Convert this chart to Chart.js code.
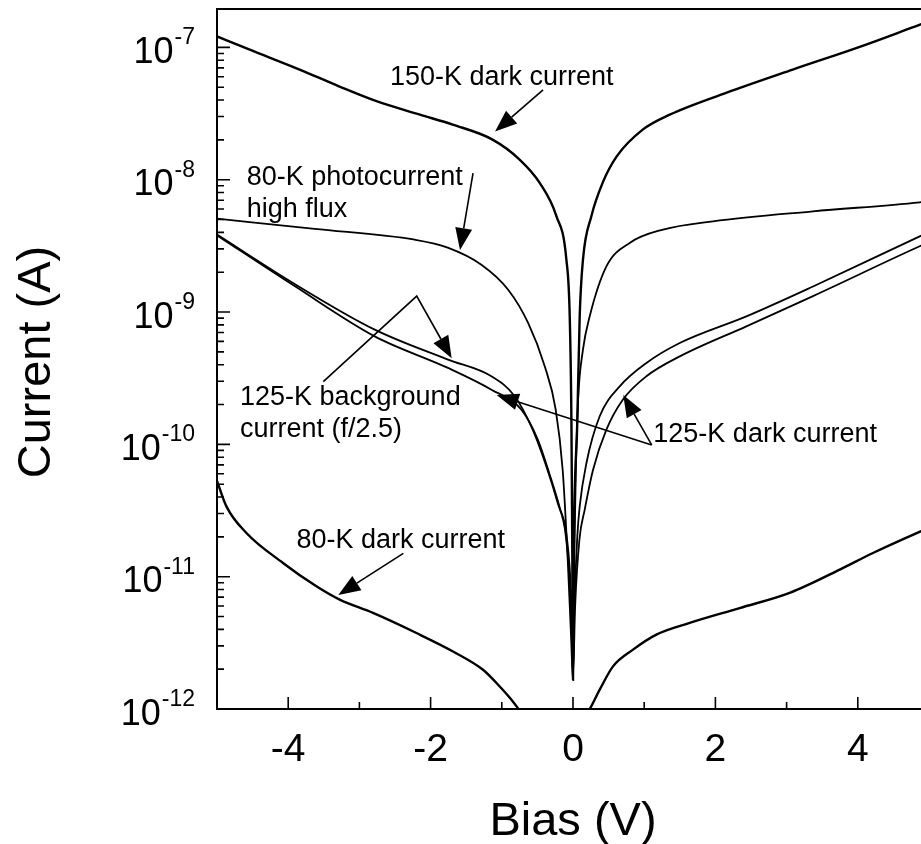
<!DOCTYPE html>
<html>
<head>
<meta charset="utf-8">
<style>
html,body{margin:0;padding:0;background:#fff;overflow:hidden;}
#wrap{width:921px;height:844px;overflow:hidden;position:relative;}
#c{display:block;}
</style>
<script src="https://cdn.jsdelivr.net/npm/chart.js@4.4.1/dist/chart.umd.min.js"></script>
</head>
<body>
<div id="wrap"><canvas id="c" width="940" height="844" style="width:940px;height:844px"></canvas></div>
<script>
// ---- data (bias in V, current in A) ----
const dark150K_V = [-5.0, -4.54, -3.84, -3.28, -2.76, -2.15, -1.69, -1.13, -0.75, -0.47, -0.233, -0.093, -0.046, -0.022, -0.01, 0, 0.012, 0.06, 0.094, 0.14, 0.258, 0.417, 0.614, 0.979, 1.358, 2.159, 3.086, 4.027, 4.883, 5.0];
const dark150K_A = [1.21e-7, 9.6e-8, 6.8e-8, 5.06e-8, 3.92e-8, 3.1e-8, 2.61e-8, 2.01e-8, 1.42e-8, 9.5e-9, 5.3e-9, 2.49e-9, 9.3e-10, 1.46e-10, 1.6e-11, 1.66e-12, 1.6e-11, 1.46e-10, 9.3e-10, 2.49e-9, 5.3e-9, 9.5e-9, 1.5e-8, 2.39e-8, 3.1e-8, 4.55e-8, 6.8e-8, 1.01e-7, 1.49e-7, 1.57e-7];

const photo80K_V = [-5.0, -3.628, -2.223, -1.76, -1.287, -0.913, -0.632, -0.397, -0.243, -0.145, -0.074, -0.025, 0, 0.017, 0.04, 0.072, 0.14, 0.235, 0.469, 0.796, 1.264, 1.966, 3.371, 4.869, 5.0];
const photo80K_A = [5.08e-9, 4.25e-9, 3.52e-9, 3.07e-9, 2.28e-9, 1.48e-9, 8.3e-10, 3.89e-10, 1.83e-10, 6.4e-11, 1.34e-11, 3.3e-12, 1.66e-12, 1.34e-11, 6.4e-11, 2.18e-10, 5.2e-10, 9.3e-10, 2.21e-9, 3.33e-9, 4.2e-9, 4.85e-9, 5.77e-9, 6.75e-9, 6.9e-9];

const bg125K_V = [-5.0, -3.91, -2.785, -1.756, -1.146, -0.819, -0.566, -0.374, -0.215, -0.103, -0.032, 0, 0.02, 0.06, 0.094, 0.188, 0.375, 0.656, 1.031, 1.499, 2.435, 3.371, 4.869, 5.0];
const bg125K_A = [3.85e-9, 1.63e-9, 7.36e-10, 4.37e-10, 3.27e-10, 2.31e-10, 1.29e-10, 6.8e-11, 3.6e-11, 2.07e-11, 6.7e-12, 1.8e-12, 6.0e-12, 2.0e-11, 3.4e-11, 7.2e-11, 1.63e-10, 2.74e-10, 4.12e-10, 5.83e-10, 9.27e-10, 1.56e-9, 3.73e-9, 4.02e-9];

const dark125K_V = [-5.0, -3.91, -2.785, -1.756, -1.146, -0.725, -0.496, -0.327, -0.187, -0.088, -0.025, 0, 0.03, 0.09, 0.164, 0.281, 0.469, 0.702, 1.031, 1.499, 2.435, 3.371, 4.869, 5.0];
const dark125K_A = [3.8e-9, 1.57e-9, 6.55e-10, 3.78e-10, 2.59e-10, 1.83e-10, 1.09e-10, 5.9e-11, 3.33e-11, 2.0e-11, 6.7e-12, 1.8e-12, 6.0e-12, 1.9e-11, 3.2e-11, 6.4e-11, 1.29e-10, 2.18e-10, 3.27e-10, 4.62e-10, 7.8e-10, 1.32e-9, 3.14e-9, 3.37e-9];

const dark80K_left_V = [-5.0, -4.868, -4.587, -4.073, -3.604, -3.277, -2.809, -2.199, -1.685, -1.264, -1.029, -0.861, -0.735];
const dark80K_left_A = [5.3e-11, 3.4e-11, 2.14e-11, 1.27e-11, 8.45e-12, 6.7e-12, 5.32e-12, 3.75e-12, 2.72e-12, 1.98e-12, 1.48e-12, 1.17e-12, 0.95e-12];
const dark80K_right_V = [0.206, 0.235, 0.375, 0.562, 0.843, 1.171, 1.639, 2.341, 3.043, 3.746, 4.213, 4.883, 5.0];
const dark80K_right_A = [0.95e-12, 1.0e-12, 1.4e-12, 2.1e-12, 2.81e-12, 3.65e-12, 4.47e-12, 5.79e-12, 7.54e-12, 1.13e-11, 1.51e-11, 2.2e-11, 2.34e-11];

// ---- axes ----
const xMin = -5, xMax = 5;
const yMin = 1e-12, yMax = 1.95e-7;
const xTickValues = [-5, -4, -3, -2, -1, 0, 1, 2, 3, 4, 5];
const xTickLabels = {'-4': '-4', '-2': '-2', '0': '0', '2': '2', '4': '4'};
const yDecadeExponents = [-12, -11, -10, -9, -8, -7];
const xTitle = 'Bias (V)';
const yTitle = 'Current (A)';

// ---- annotations (data coordinates) ----
const annotationTexts = [
  {lines: ['150-K dark current'], at: [-2.57, 5.2e-8]},
  {lines: ['80-K photocurrent', 'high flux'], at: [-4.583, 9.14e-9]},
  {lines: ['125-K background', 'current (f/2.5)'], at: [-4.677, 1.99e-10]},
  {lines: ['125-K dark current'], at: [1.128, 1.05e-10]},
  {lines: ['80-K dark current'], at: [-3.885, 1.64e-11]}
];
const annotationArrows = [
  [[-0.42, 4.78e-8], [-1.095, 2.31e-8]],
  [[-1.404, 1.12e-8], [-1.587, 2.94e-9]],
  [[-3.507, 2.98e-10], [-2.195, 1.32e-9], [-1.704, 4.48e-10]],
  [[1.105, 9.9e-11], [-1.072, 2.36e-10]],
  [[1.105, 9.9e-11], [0.706, 2.36e-10]],
  [[-2.383, 1.5e-11], [-3.296, 7.28e-12]]
];

const FONT = '"Liberation Sans", Arial, Helvetica, sans-serif';

function zip(xs, ys) { return xs.map((v, i) => ({x: v, y: ys[i]})); }

function ds(label, xs, ys, w) {
  return {
    label, data: zip(xs, ys),
    borderColor: '#000', backgroundColor: '#000',
    borderWidth: w, pointRadius: 0, fill: false,
    cubicInterpolationMode: 'monotone'
  };
}

const decorPlugin = {
  id: 'decor',
  afterDraw(chart) {
    const ctx = chart.ctx, a = chart.chartArea;
    const xs = chart.scales.x, ys = chart.scales.y;
    ctx.save();
    ctx.strokeStyle = '#000';
    ctx.fillStyle = '#000';
    // top border
    ctx.lineWidth = 2;
    ctx.beginPath();
    ctx.moveTo(a.left - 1, a.top);
    ctx.lineTo(a.right + 1, a.top);
    ctx.stroke();
    // x tick marks (inward)
    ctx.lineWidth = 1.6;
    ctx.beginPath();
    xTickValues.forEach(v => {
      const px = xs.getPixelForValue(v);
      const major = (v % 2 === 0);
      ctx.moveTo(px, a.bottom);
      ctx.lineTo(px, a.bottom - (major ? 12 : 7));
    });
    ctx.stroke();
    // y tick marks (inward)
    ctx.beginPath();
    yDecadeExponents.forEach(e => {
      for (let m = 1; m <= 9; m++) {
        const v = m * Math.pow(10, e);
        if (v < yMin * 0.999 || v > yMax) continue;
        const py = ys.getPixelForValue(v);
        ctx.moveTo(a.left, py);
        ctx.lineTo(a.left + (m === 1 ? 13 : 7), py);
      }
    });
    ctx.stroke();
    // x tick labels
    ctx.font = '39px ' + FONT;
    ctx.textAlign = 'center';
    ctx.textBaseline = 'alphabetic';
    xTickValues.forEach(v => {
      const t = xTickLabels[String(v)];
      if (t === undefined) return;
      ctx.fillText(t, xs.getPixelForValue(v), a.bottom + 52);
    });
    // y tick labels 10^e
    const rightEdge = a.left - 22;
    yDecadeExponents.forEach(e => {
      const py = ys.getPixelForValue(Math.pow(10, e));
      ctx.textAlign = 'right';
      ctx.font = '23px ' + FONT;
      const sup = String(e);
      const w = ctx.measureText(sup).width;
      ctx.fillText(sup, rightEdge, py - 3);
      ctx.font = '36px ' + FONT;
      ctx.fillText('10', rightEdge - w - 1, py + 15.5);
    });
    // axis titles
    ctx.font = '47px ' + FONT;
    ctx.textAlign = 'center';
    ctx.fillText(xTitle, (a.left + a.right) / 2, a.bottom + 126);
    ctx.save();
    ctx.translate(50, (a.top + a.bottom) / 2 + 3);
    ctx.rotate(-Math.PI / 2);
    ctx.fillText(yTitle, 0, 0);
    ctx.restore();
    // annotation texts
    ctx.font = '27px ' + FONT;
    ctx.textAlign = 'left';
    annotationTexts.forEach(t => {
      const px = xs.getPixelForValue(t.at[0]);
      const py = ys.getPixelForValue(t.at[1]);
      t.lines.forEach((ln, i) => ctx.fillText(ln, px, py + i * 32));
    });
    // annotation arrows
    ctx.lineWidth = 1.6;
    annotationArrows.forEach(path => {
      const pts = path.map(p => [xs.getPixelForValue(p[0]), ys.getPixelForValue(p[1])]);
      const n = pts.length;
      const [tx, ty] = pts[n - 1];
      const [sx, sy] = pts[n - 2];
      const ang = Math.atan2(ty - sy, tx - sx);
      const headLen = 22, headW = 8.5;
      const bx = tx - Math.cos(ang) * headLen, by = ty - Math.sin(ang) * headLen;
      ctx.beginPath();
      ctx.moveTo(pts[0][0], pts[0][1]);
      for (let i = 1; i < n - 1; i++) ctx.lineTo(pts[i][0], pts[i][1]);
      ctx.lineTo(bx, by);
      ctx.stroke();
      ctx.beginPath();
      ctx.moveTo(tx, ty);
      ctx.lineTo(bx + Math.sin(ang) * headW, by - Math.cos(ang) * headW);
      ctx.lineTo(bx - Math.sin(ang) * headW, by + Math.cos(ang) * headW);
      ctx.closePath();
      ctx.fill();
    });
    ctx.restore();
  }
};

new Chart(document.getElementById('c'), {
  type: 'line',
  data: {
    datasets: [
      ds('150-K dark current', dark150K_V, dark150K_A, 2.4),
      ds('80-K photocurrent high flux', photo80K_V, photo80K_A, 1.8),
      ds('125-K background current (f/2.5)', bg125K_V, bg125K_A, 1.8),
      ds('125-K dark current', dark125K_V, dark125K_A, 1.8),
      ds('80-K dark current', dark80K_left_V, dark80K_left_A, 2.4),
      ds('80-K dark current (positive bias)', dark80K_right_V, dark80K_right_A, 2.4)
    ]
  },
  options: {
    responsive: false,
    animation: false,
    layout: {padding: {left: 217, right: 11, top: 9, bottom: 135}},
    plugins: {legend: {display: false}, tooltip: {enabled: false}, title: {display: false}},
    scales: {
      x: {
        type: 'linear', min: xMin, max: xMax,
        grid: {display: false, drawTicks: false},
        border: {display: true, color: '#000', width: 2},
        ticks: {display: false}
      },
      y: {
        type: 'logarithmic', min: yMin, max: yMax,
        grid: {display: false, drawTicks: false},
        border: {display: true, color: '#000', width: 2},
        ticks: {display: false}
      }
    }
  },
  plugins: [decorPlugin]
});
</script>
</body>
</html>
